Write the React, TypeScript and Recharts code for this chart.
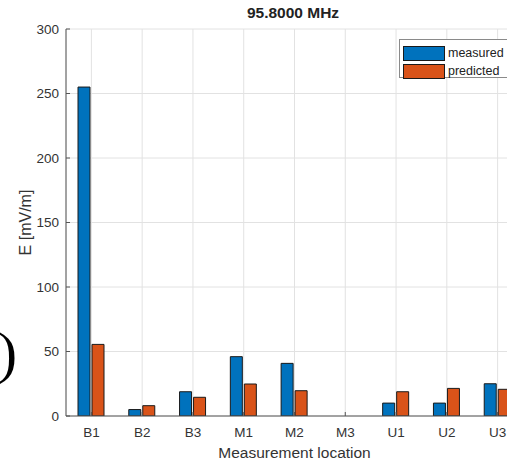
import React from 'react';
import { BarChart, Bar, XAxis, YAxis, CartesianGrid } from 'recharts';

const categories = ['B1', 'B2', 'B3', 'M1', 'M2', 'M3', 'U1', 'U2', 'U3'];
const measured = [255, 5, 18.8, 46, 40.8, 0, 10, 10, 25];
const predicted = [55.5, 8, 14.5, 24.8, 19.6, 0, 18.8, 21.4, 20.7];
const yTicks = [0, 50, 100, 150, 200, 250, 300];
const seriesNames = ['measured', 'predicted'];
const seriesColors = ['#0072BD', '#D95319'];
const title = '95.8000 MHz';
const xLabel = 'Measurement location';
const yLabel = 'E [mV/m]';
const panelTag = '(g)';

const data = categories.map((c, i) => ({ name: c, measured: measured[i], predicted: predicted[i] }));

const FONT = 'Arial, "Liberation Sans", Helvetica, sans-serif';
const TEXT = '#333333';
const AXIS = '#555555';
const GRID = '#e2e2e2';

const YTick = (props: any) => {
  const { x, y, payload } = props;
  return (
    <g>
      <line x1={x} x2={x + 4} y1={y} y2={y} stroke={AXIS} strokeWidth={1} />
      <text x={x - 7} y={y} dy="0.36em" textAnchor="end" fontSize={13.5} fill={TEXT} fontFamily={FONT}>
        {payload.value}
      </text>
    </g>
  );
};

const XTick = (props: any) => {
  const { x, y, payload } = props;
  return (
    <g>
      <line x1={x} x2={x} y1={y} y2={y - 4} stroke={AXIS} strokeWidth={1} />
      <text x={x} y={y + 21} textAnchor="middle" fontSize={13.5} fill={TEXT} fontFamily={FONT}>
        {payload.value}
      </text>
    </g>
  );
};

const TopTick = (props: any) => {
  const { x, y } = props;
  return <line x1={x} x2={x} y1={y} y2={y + 4} stroke={AXIS} strokeWidth={1} />;
};

export default function App() {
  return (
    <div
      style={{
        position: 'absolute',
        left: 0,
        top: 0,
        width: 507,
        height: 464,
        overflow: 'hidden',
        background: '#ffffff',
      }}
    >
      <div
        style={{
          position: 'absolute',
          left: -100,
          top: 324,
          width: 117,
          textAlign: 'right',
          fontFamily: '"Liberation Serif", "DejaVu Serif", serif',
          fontSize: 58,
          lineHeight: '58px',
          color: '#000',
          whiteSpace: 'nowrap',
        }}
      >
        <span>{panelTag[0]}</span>
        <span style={{ fontStyle: 'italic' }}>{panelTag[1]}</span>
        <span>{panelTag[2]}</span>
      </div>
      <div style={{ position: 'absolute', left: 0, top: 0 }}>
        <BarChart
          width={531}
          height={464}
          data={data}
          margin={{ top: 29, right: 8, bottom: 0, left: 0 }}
          barSize={12}
          barGap={2}
        >
          <CartesianGrid stroke={GRID} strokeWidth={1} />
          <XAxis
            dataKey="name"
            height={48}
            tickSize={0}
            tickMargin={0}
            tick={<XTick />}
            axisLine={{ stroke: AXIS, strokeWidth: 1 }}
            tickLine={false}
            interval={0}
            label={{
              value: xLabel,
              position: 'insideBottom',
              offset: 6,
              style: { fontSize: 15.5, fill: TEXT, fontFamily: FONT },
            }}
          />
          <XAxis
            xAxisId="top"
            dataKey="name"
            orientation="top"
            height={0}
            tickSize={0}
            tickMargin={0}
            tick={<TopTick />}
            axisLine={{ stroke: AXIS, strokeWidth: 1 }}
            tickLine={false}
            interval={0}
          />
          <YAxis
            width={66}
            domain={[0, 300]}
            ticks={yTicks}
            type="number"
            allowDataOverflow
            tickSize={0}
            tickMargin={0}
            tick={<YTick />}
            tickLine={false}
            axisLine={{ stroke: AXIS, strokeWidth: 1 }}
            label={{
              value: yLabel,
              angle: -90,
              position: 'insideLeft',
              offset: 25,
              style: { fontSize: 16, fill: TEXT, fontFamily: FONT, textAnchor: 'middle' },
            }}
          />
          <Bar dataKey="measured" fill={seriesColors[0]} stroke="#1a1a1a" strokeWidth={1} isAnimationActive={false} />
          <Bar dataKey="predicted" fill={seriesColors[1]} stroke="#1a1a1a" strokeWidth={1} isAnimationActive={false} />
        </BarChart>
      </div>
      <div
        style={{
          position: 'absolute',
          left: 193,
          top: 5,
          width: 200,
          textAlign: 'center',
          fontFamily: FONT,
          fontSize: 15.5,
          fontWeight: 'bold',
          lineHeight: '16px',
          color: '#222',
        }}
      >
        {title}
      </div>
      <div
        style={{
          position: 'absolute',
          left: 399,
          top: 39,
          width: 118,
          height: 39,
          border: '1px solid #8a8a8a',
          background: '#ffffff',
          boxSizing: 'border-box',
          paddingTop: 4,
          paddingLeft: 3,
          fontFamily: FONT,
          fontSize: 12.5,
          color: '#222',
        }}
      >
        {seriesNames.map((n, i) => (
          <div key={n} style={{ display: 'flex', alignItems: 'center', height: 18 }}>
            <div
              style={{
                width: 42,
                height: 15,
                background: seriesColors[i],
                border: '1px solid #1a1a1a',
                boxSizing: 'border-box',
                marginRight: 3,
              }}
            />
            <span style={{ lineHeight: '15px' }}>{n}</span>
          </div>
        ))}
      </div>
    </div>
  );
}
